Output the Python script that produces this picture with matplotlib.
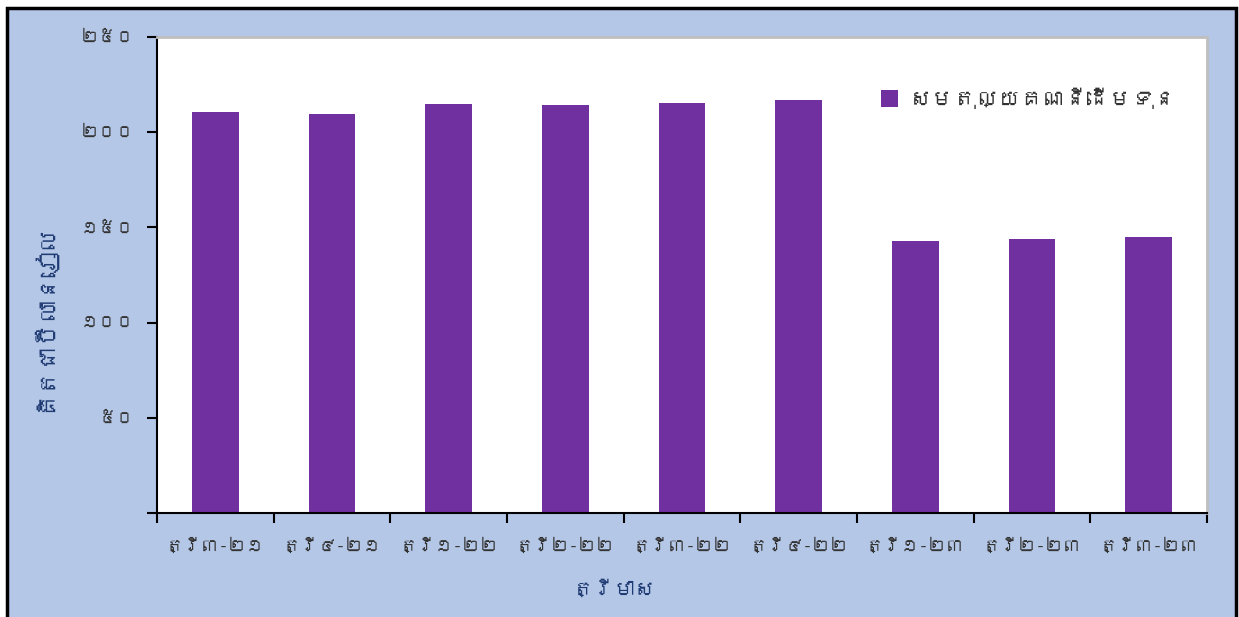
import matplotlib
matplotlib.use("Agg")
import matplotlib.pyplot as plt
from matplotlib import font_manager
from matplotlib.patches import Rectangle

# ---- data ----
categories = ["ត្រី៣-២១", "ត្រី៤-២១", "ត្រី១-២២", "ត្រី២-២២", "ត្រី៣-២២",
              "ត្រី៤-២២", "ត្រី១-២៣", "ត្រី២-២៣", "ត្រី៣-២៣"]
values = [210.5, 209.5, 214.7, 214.2, 215.3, 216.8, 142.6, 143.7, 144.7]
series_name = "សមតុល្យគណនីដើមទុន"
y_ticks = [0, 50, 100, 150, 200, 250]
y_tick_labels = ["", "៥០", "១០០", "១៥០", "២០០", "២៥០"]
x_title = "ត្រីមាស"
y_title = "គិតជាប៊ីលានរៀល"

# ---- find a font with Khmer glyphs, if any ----
khmer_family = None
try:
    from matplotlib.ft2font import FT2Font
    for fe in font_manager.fontManager.ttflist:
        try:
            cm = FT2Font(fe.fname).get_charmap()
            if 0x1780 in cm and 0x17E0 in cm:
                khmer_family = fe.name
                break
        except Exception:
            pass
except Exception:
    pass
families = ([khmer_family] if khmer_family else []) + ["DejaVu Sans"]
plt.rcParams["font.family"] = families

BLUE_BG = "#B4C7E7"
PURPLE = "#7030A0"
DARKBLUE = "#1F3B73"
TXT = "#333333"

fig = plt.figure(figsize=(12.39, 6.17), dpi=100, facecolor="white")
bg = Rectangle((7 / 1239, -0.05), 1229 / 1239, 1 - 8 / 617 + 0.05,
               transform=fig.transFigure, facecolor=BLUE_BG,
               edgecolor="black", linewidth=2.5, zorder=-10)
fig.add_artist(bg)

ax = fig.add_axes([157 / 1239, 1 - 513 / 617, 1050 / 1239, 476 / 617])
ax.set_zorder(1)
ax.set_facecolor("white")
x = list(range(len(categories)))
ax.bar(x, values, width=0.4, color=PURPLE, label=series_name, zorder=2)

ax.set_xlim(-0.5, len(categories) - 0.5)
ax.set_ylim(0, 250)
ax.set_yticks(y_ticks)
ax.set_yticklabels(y_tick_labels, fontsize=13, color=TXT)
ax.set_xticks(x)
ax.set_xticklabels(categories, fontsize=13, color=TXT)
ax.set_xticks([i - 0.5 for i in range(len(categories) + 1)], minor=True)
ax.tick_params(axis="x", which="major", length=0, pad=18)
ax.tick_params(axis="x", which="minor", length=7, width=1.5, color="black")
ax.tick_params(axis="y", length=7, width=1.5, color="black", pad=9)

for s in ["top", "right"]:
    ax.spines[s].set_color("#BFBFBF")
    ax.spines[s].set_linewidth(2)
for s in ["left", "bottom"]:
    ax.spines[s].set_color("black")
    ax.spines[s].set_linewidth(1.5)

ax.set_xlabel(x_title, fontsize=15, color=DARKBLUE)
ax.set_ylabel(y_title, fontsize=17, color=DARKBLUE)
ax.xaxis.set_label_coords(0.436, -0.141)
ax.yaxis.set_label_coords(-0.098, 0.41)

leg = ax.legend(loc="upper right", bbox_to_anchor=(0.99, 0.935), frameon=False,
                fontsize=16, handlelength=0.8, handleheight=0.8, handletextpad=0.5)
for t in leg.get_texts():
    t.set_color(TXT)

fig.savefig("out.png", dpi=100, facecolor=fig.get_facecolor())
